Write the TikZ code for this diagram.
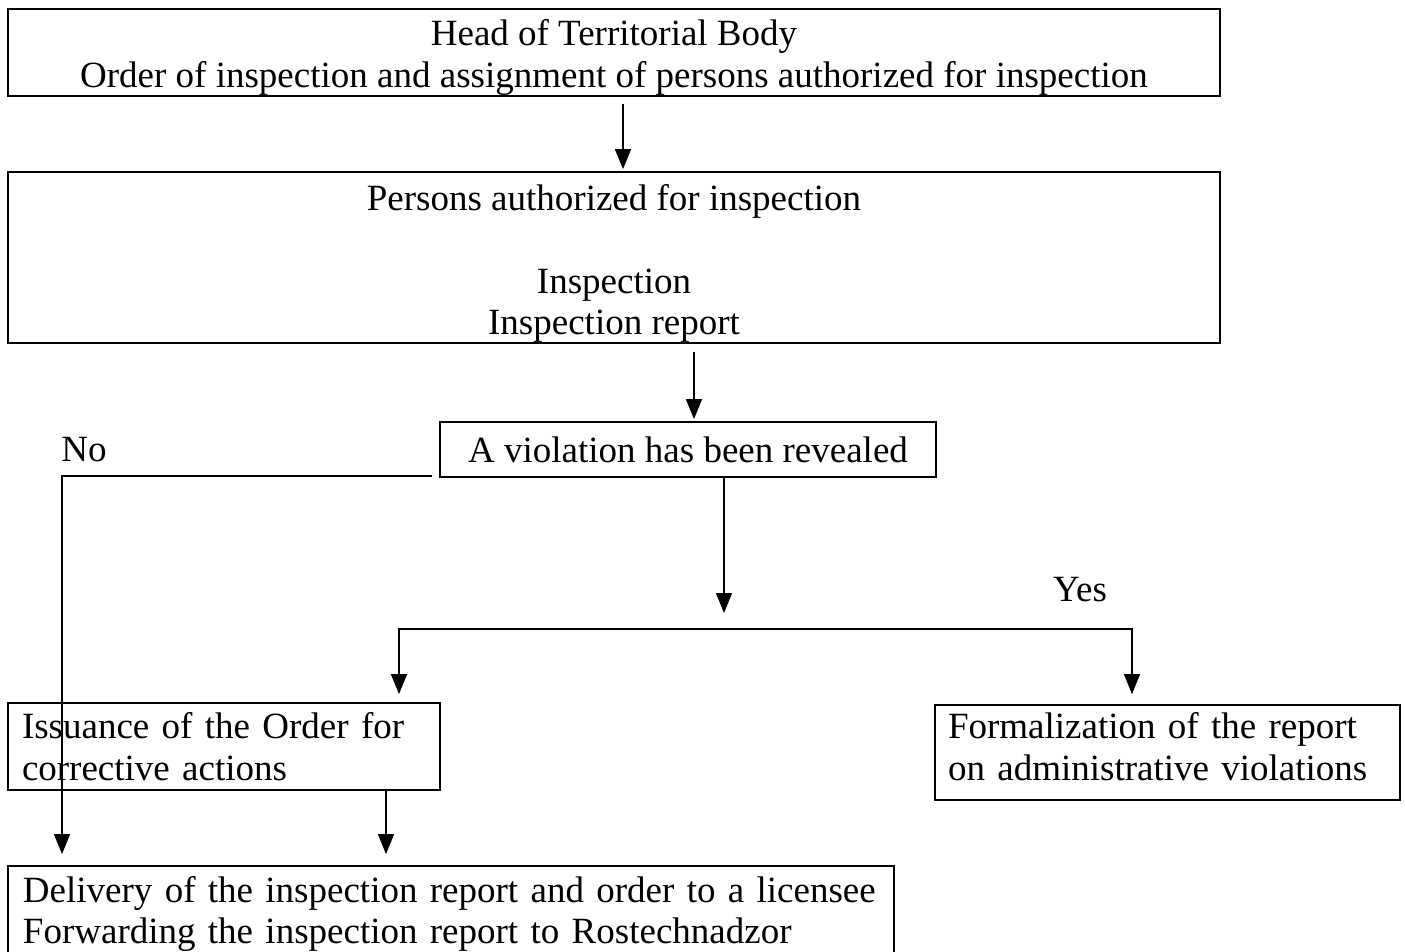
\documentclass[tikz,border=0pt]{standalone}
\usepackage{fontspec}
\setmainfont{Liberation Serif}
\usetikzlibrary{arrows.meta,calc}
% invisible struts that push a text block down (top) or up (bottom)
\newcommand{\padtop}[1]{\rule{0pt}{#1}}
\newcommand{\padbot}[1]{\rule[-#1]{0pt}{0pt}}
\begin{document}
\begin{tikzpicture}[x=1pt,y=-1pt,
  txt/.style={font=\fontsize{37}{41.5}\selectfont},
  box/.style={txt, draw, line width=1.8pt, inner sep=0pt, align=center},
  lbox/.style={box, align=left},
  conn/.style={line width=1.4pt},
  arr/.style={conn, -{Triangle[length=20pt,width=16pt]}},
  lbl/.style={txt, inner sep=0pt}]
\useasboundingbox (0,0) rectangle (1405,951);
\clip (0,0) rectangle (1405,951);
\fill[white] (0,0) rectangle (1405,951);

% boxes
\node[box, minimum width=1212pt, minimum height=87pt] (head) at (614,52.5)
  {\padtop{36pt}Head of Territorial Body\\Order of inspection and assignment of persons authorized for inspection};
\node[box, minimum width=1212pt, minimum height=171pt] (persons) at (614,257.5)
  {\padtop{38pt}Persons authorized for inspection\\[41.5pt]Inspection\\Inspection report};
\node[box, minimum width=496pt, minimum height=55pt] (viol) at (688,449.5)
  {A violation has been revealed};
\node[lbox, text width=404pt, inner xsep=14pt, minimum height=87pt] (order) at (224,746.5)
  {Issuance of the Order for\\corrective actions};
\node[lbox, text width=439pt, inner xsep=13pt, minimum height=95pt] (admin) at (1167.5,752.5)
  {Formalization of the report\\on administrative violations\padbot{12pt}};
\node[lbox, text width=856pt, inner xsep=15pt, minimum height=90pt] (deliv) at (451,911)
  {\padtop{32pt}\mbox{Delivery of the inspection report and order to a licensee}\\\mbox{Forwarding the inspection report to Rostechnadzor}};

% branch labels
\node[lbl] (no) at (84,450) {No};
\node[lbl] (yes) at (1080,590) {Yes};

% connector columns and junctions
\coordinate (a1) at (623,0);
\coordinate (a2) at (694,0);
\coordinate (a3) at (724,0);
\coordinate (a4) at (386,0);
\coordinate (nox) at (62,0);
\coordinate (split) at (724,613);
\coordinate (bl) at (399,629);
\coordinate (br) at (1132,629);

% connectors
\draw[arr, shorten <=7pt, shorten >=2pt] (head.south -| a1) -- (persons.north -| a1);
\draw[arr, shorten <=8pt, shorten >=2pt] (persons.south -| a2) -- (viol.north -| a2);
\draw[arr] (viol.south -| a3) -- (split);
\draw[arr, shorten >=8pt] (br) -- (bl) -- (order.north -| bl);
\draw[arr, shorten >=10pt] (bl) -- (br) -- (admin.north -| br);
\draw[arr, shorten >=11pt] ([xshift=-7pt,yshift=2pt]viol.south west) -| (deliv.north -| nox);
\draw[arr, shorten >=11pt] (order.south -| a4) -- (deliv.north -| a4);
\end{tikzpicture}
\end{document}
